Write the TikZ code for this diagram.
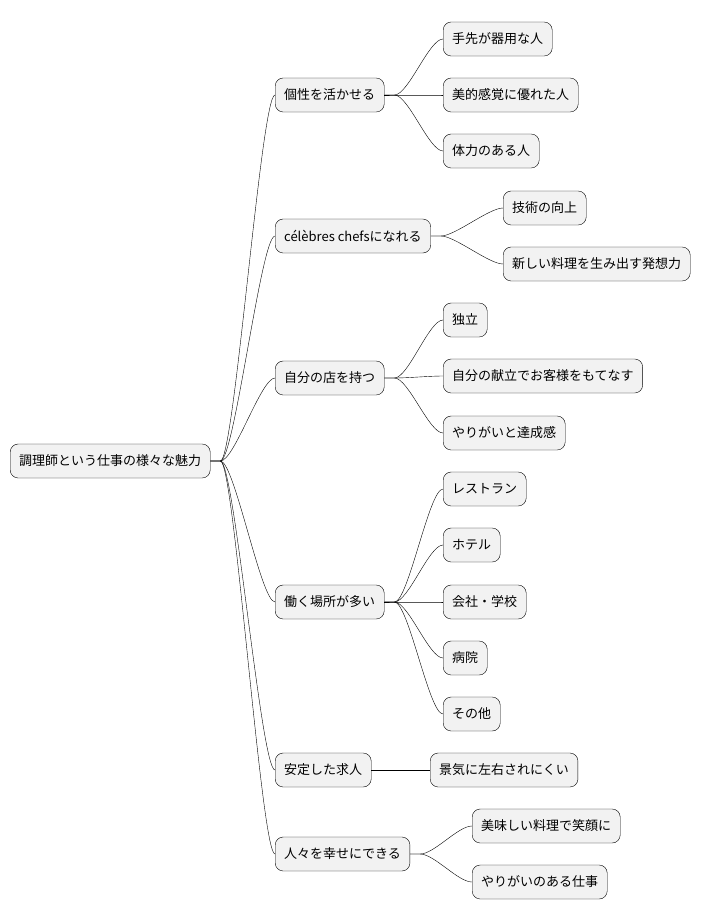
\documentclass[tikz,border=0pt]{standalone}
\usepackage{fontspec}
\setmainfont{Noto Sans CJK JP}
\begin{document}
\begin{tikzpicture}[x=1pt,y=-1pt,
  topic/.style={draw,rounded corners=8pt,fill=gray!10,anchor=west,minimum height=34pt,inner xsep=9pt,font=\fontsize{13}{15}\selectfont},
  link/.style={draw,thin}]
\useasboundingbox (0,0) rectangle (716,921);
% root
\node[topic] (root) at (10,461) {調理師という仕事の様々な魅力};
% first level
\node[topic] (kosei) at (275,95) {個性を活かせる};
\node[topic] (chef) at (275,236) {célèbres chefsになれる};
\node[topic] (mise) at (275,378) {自分の店を持つ};
\node[topic] (basho) at (275,602) {働く場所が多い};
\node[topic] (antei) at (275,770) {安定した求人};
\node[topic] (hito) at (275,854) {人々を幸せにできる};
% second level
\node[topic] (k1) at (443,39) {手先が器用な人};
\node[topic] (k2) at (443,95) {美的感覚に優れた人};
\node[topic] (k3) at (443,151) {体力のある人};
\node[topic] (c1) at (503,208) {技術の向上};
\node[topic] (c2) at (503,264) {新しい料理を生み出す発想力};
\node[topic] (m1) at (443,320) {独立};
\node[topic] (m2) at (443,376) {自分の献立でお客様をもてなす};
\node[topic] (m3) at (443,433) {やりがいと達成感};
\node[topic] (b1) at (443,489) {レストラン};
\node[topic] (b2) at (443,545) {ホテル};
\node[topic] (b3) at (443,602) {会社・学校};
\node[topic] (b4) at (443,658) {病院};
\node[topic] (b5) at (443,714) {その他};
\node[topic] (a1) at (430,770) {景気に左右されにくい};
\node[topic] (h1) at (472,826) {美味しい料理で笑顔に};
\node[topic] (h2) at (472,882) {やりがいのある仕事};
% connectors
\foreach \p/\c in {root/kosei,root/chef,root/mise,root/basho,root/antei,root/hito,
  kosei/k1,kosei/k2,kosei/k3,chef/c1,chef/c2,mise/m1,mise/m2,mise/m3,
  basho/b1,basho/b2,basho/b3,basho/b4,basho/b5,antei/a1,hito/h1,hito/h2}
  \draw[link] (\p.east) -- ++(10,0) .. controls +(14,0) and +(-14,0) .. (\c.west);
\end{tikzpicture}
\end{document}
